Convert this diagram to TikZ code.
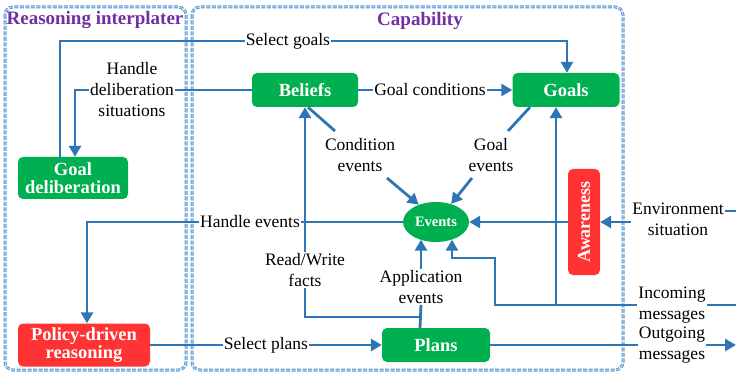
\documentclass[tikz,border=0pt]{standalone}
\usepackage{fontspec}
\setmainfont{Liberation Serif}
\newfontfamily\lserif{Liberation Serif}
\usetikzlibrary{arrows.meta,shapes.geometric}
\definecolor{lineblue}{HTML}{2E75B6}
\definecolor{borderblue}{HTML}{5B9BD5}
\definecolor{boxgreen}{HTML}{00B050}
\definecolor{boxred}{HTML}{FF3333}
\definecolor{titlepurple}{HTML}{7030A0}
\tikzset{
  conn/.style={draw=lineblue, line width=2.8pt},
  arr/.style={conn, -{Triangle[length=11pt,width=12pt]}},
  lbl/.style={font=\lserif\fontsize{17.5}{21}\selectfont, align=center, inner sep=1pt, text=black},
  panel/.style={draw=borderblue, dash pattern=on 4pt off 1.5pt, line width=1pt, double=borderblue!45, double distance=1pt, rounded corners=8pt},
  ptitle/.style={font=\lserif\fontsize{19}{21}\selectfont\bfseries, text=titlepurple, inner sep=0pt},
  gbox/.style={fill=boxgreen, rounded corners=5pt, text=white, font=\lserif\fontsize{18.5}{21}\selectfont\bfseries, align=center, inner sep=1pt},
  rbox/.style={fill=boxred, rounded corners=5pt, text=white, font=\lserif\fontsize{18.5}{21}\selectfont\bfseries, align=center, inner sep=1pt},
}
\begin{document}
\begin{tikzpicture}[x=1pt,y=-1pt]
\useasboundingbox (0,0) rectangle (736,374);
% panels
\draw[panel] (5,7) rectangle (186,370);
\draw[panel] (192,7) rectangle (623,370);
\node[ptitle] (t1) at (95,20) {Reasoning interplater};
\node[ptitle] (t2) at (420,21) {Capability};
% boxes
\node[gbox, minimum width=110pt, minimum height=42pt] (gd) at (73,178) {Goal\\[-3pt]deliberation};
\node[rbox, minimum width=132pt, minimum height=43pt] (pdr) at (84,345) {Policy-driven\\[-3pt]reasoning};
\node[gbox, minimum width=106pt, minimum height=34pt] (bel) at (305,90) {Beliefs};
\node[gbox, minimum width=107pt, minimum height=34pt] (goals) at (566,90) {Goals};
\node[gbox, minimum width=108pt, minimum height=34pt] (plans) at (436,345) {Plans};
\node[ellipse, fill=boxgreen, text=white, font=\lserif\fontsize{14.5}{15}\selectfont\bfseries, minimum width=66pt, minimum height=40pt, inner sep=0pt] (ev) at (436,222) {Events};
\node[rbox, minimum width=32pt, minimum height=106pt] (aw) at (584,222) {\rotatebox{90}{\fontsize{18}{18}\selectfont Awareness}};
% labels
\node[lbl] (sg) at (288,41) {Select goals};
\node[lbl] (hd) at (132,90) {Handle\\deliberation\\situations};
\node[lbl] (gc) at (430,90) {Goal conditions};
\node[lbl] (ce) at (360,155) {Condition\\events};
\node[lbl] (ge) at (491,155) {Goal\\events};
\node[lbl] (he) at (250,222) {Handle events};
\node[lbl] (rw) at (305,270) {Read/Write\\facts};
\node[lbl] (ae) at (421,287) {Application\\events};
\node[lbl] (sp) at (266,345) {Select plans};
\node[lbl] (env) at (678,219) {Environment\\situation};
\node[lbl] (inc) at (672,305) {Incoming\\messages};
\node[lbl] (out) at (672,345) {Outgoing\\messages};
% coordinates
\coordinate (ce1) at (335,131);
\coordinate (ce2) at (387,178);
\coordinate (ge1) at (508,131);
\coordinate (ge2) at (472,178);
\coordinate (rwj) at (420,317);
\coordinate (envR) at (736,211);
\coordinate (incR) at (736,305);
\coordinate (ij) at (495,258);
\coordinate (ig) at (556,305);
\coordinate (outR) at (736,345);
% connectors
\draw[conn] ([xshift=-13pt]gd.north) |- (sg.west);
\draw[arr] (sg.east) -| ([xshift=1pt]goals.north);
\draw[conn] (bel.west) -- (hd.east);
\draw[arr] (hd.west) -| ([xshift=2pt]gd.north);
\draw[conn] (bel.east) -- (gc.west);
\draw[arr] (gc.east) -- (goals.west);
\draw[conn] ([xshift=3pt]bel.south) -- (ce1);
\draw[arr] (ce2) -- (ev.135);
\draw[conn] ([xshift=-36pt]goals.south) -- (ge1);
\draw[arr] (ge2) -- (ev.50);
\draw[conn] (ev.west) -- (he.east);
\draw[arr] (he.west) -| ([xshift=3pt]pdr.north);
\draw[arr] (rw.north) -- (bel.south);
\draw[conn] (rw.south) |- (rwj);
\draw[conn] ([xshift=-16pt]plans.north) -- (ae.south);
\draw[arr] (ae.north) -- (ae.north |- ev.228);
\draw[conn] (pdr.east) -- (sp.west);
\draw[arr] (sp.east) -- (plans.west);
\draw[conn] (envR) -- (envR -| env.east);
\draw[arr] (env.west |- aw.east) -- (aw.east);
\draw[arr] (aw.west) -- (ev.east);
\draw[conn] (incR) -- (incR -| inc.east);
\draw[arr] (inc.west) -| (ij) -| (ev.-48);
\draw[arr] (ig) -- (ig |- goals.south);
\draw[conn] (plans.east) -- (plans.east -| out.west);
\draw[arr] (out.east) -- (outR);
\end{tikzpicture}
\end{document}
